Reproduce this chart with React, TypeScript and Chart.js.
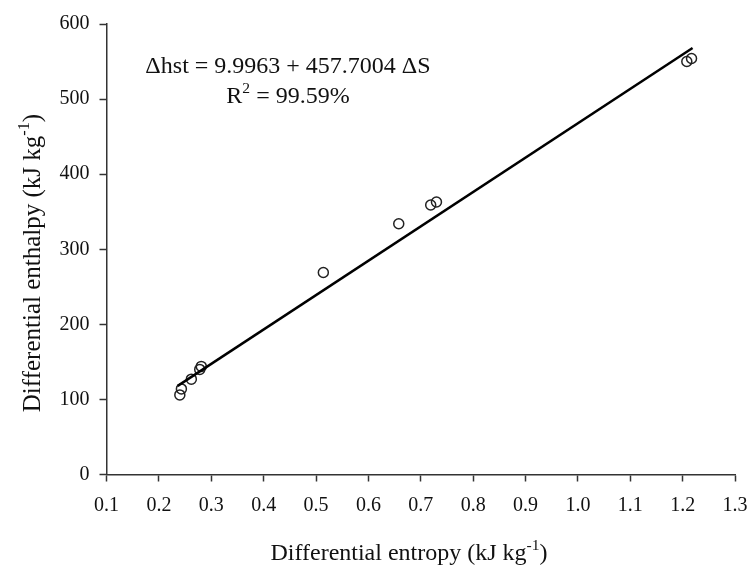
import React, { useEffect, useRef } from "react";
import { Chart, registerables } from "chart.js";

Chart.register(...registerables);

const entropy = [0.240, 0.243, 0.262, 0.278, 0.281, 0.514, 0.658, 0.719, 0.730, 1.208, 1.217];
const enthalpy = [106, 114, 127, 140, 144, 269, 334, 359, 363, 550, 554];
const fitX = [0.236, 1.219];
const fitY = [118, 568];
const xTicks = [0.1, 0.2, 0.3, 0.4, 0.5, 0.6, 0.7, 0.8, 0.9, 1.0, 1.1, 1.2, 1.3];
const yTicks = [0, 100, 200, 300, 400, 500, 600];

const FONT = "'Liberation Serif', 'Times New Roman', serif";

type Part = { t: string; sup?: boolean };

function drawRich(ctx: CanvasRenderingContext2D, parts: Part[], x: number, y: number, size: number, align: "left" | "center") {
  const supSize = size * 0.65;
  const widths = parts.map((p) => {
    ctx.font = `${p.sup ? supSize : size}px ${FONT}`;
    return ctx.measureText(p.t).width;
  });
  const total = widths.reduce((a, b) => a + b, 0);
  let cx = align === "center" ? x - total / 2 : x;
  ctx.textAlign = "left";
  ctx.textBaseline = "alphabetic";
  parts.forEach((p, i) => {
    ctx.font = `${p.sup ? supSize : size}px ${FONT}`;
    ctx.fillText(p.t, cx, p.sup ? y - size * 0.42 : y);
    cx += widths[i];
  });
}

const textPlugin = {
  id: "richText",
  afterDraw(chart: any) {
    const ctx = chart.ctx as CanvasRenderingContext2D;
    ctx.save();
    ctx.fillStyle = "#111";
    // annotation
    drawRich(ctx, [{ t: "\u0394hst = 9.9963 + 457.7004 \u0394S" }], 288, 73, 24, "center");
    drawRich(ctx, [{ t: "R" }, { t: "2", sup: true }, { t: " = 99.59%" }], 288, 103, 24, "center");
    // x title
    drawRich(ctx, [{ t: "Differential entropy (kJ kg" }, { t: "-1", sup: true }, { t: ")" }], 409, 560, 24, "center");
    // y title
    ctx.translate(39.5, 263);
    ctx.rotate(-Math.PI / 2);
    drawRich(ctx, [{ t: "Differential enthalpy (kJ kg" }, { t: "-1", sup: true }, { t: ")" }], 0, 0, 25, "center");
    ctx.restore();
  },
};

export default function App() {
  const ref = useRef<HTMLCanvasElement>(null);
  useEffect(() => {
    if (!ref.current) return;
    const chart = new Chart(ref.current, {
      type: "scatter",
      data: {
        datasets: [
          {
            type: "line",
            data: fitX.map((x, i) => ({ x, y: fitY[i] })),
            borderColor: "#000",
            borderWidth: 2.5,
            pointRadius: 0,
            showLine: true,
            fill: false,
          } as any,
          {
            data: entropy.map((x, i) => ({ x, y: enthalpy[i] })),
            pointStyle: "circle",
            pointRadius: 5,
            pointBorderWidth: 1.5,
            borderColor: "#222",
            backgroundColor: "rgba(0,0,0,0)",
            pointBackgroundColor: "rgba(0,0,0,0)",
            showLine: false,
          },
        ],
      },
      options: {
        responsive: false,
        animation: false,
        layout: { padding: { top: 24, right: 14, left: 0, bottom: 0 } },
        plugins: { legend: { display: false }, tooltip: { enabled: false } },
        scales: {
          x: {
            type: "linear",
            min: 0.1,
            max: 1.3,
            afterBuildTicks: (s: any) => {
              s.ticks = xTicks.map((v) => ({ value: v }));
            },
            afterFit: (s: any) => {
              s.height = 90.5;
              s.paddingLeft = 0;
              s.paddingRight = 0;
            },
            ticks: {
              callback: (v: any) => Number(v).toFixed(1),
              font: { family: FONT, size: 20 },
              color: "#111",
              padding: 12,
              maxRotation: 0,
              autoSkip: false,
            },
            grid: { drawOnChartArea: false, drawTicks: true, tickLength: 7, color: "#333", tickWidth: 1.5 },
            border: { color: "#333", width: 1.5 },
          },
          y: {
            type: "linear",
            min: 0,
            max: 600,
            afterBuildTicks: (s: any) => {
              s.ticks = yTicks.map((v) => ({ value: v }));
            },
            afterFit: (s: any) => {
              s.width = 106.5;
              s.paddingTop = 0;
              s.paddingBottom = 0;
            },
            ticks: {
              font: { family: FONT, size: 20 },
              color: "#111",
              padding: 10,
              autoSkip: false,
            },
            grid: { drawOnChartArea: false, drawTicks: true, tickLength: 7, color: "#333", tickWidth: 1.5 },
            border: { color: "#333", width: 1.5 },
          },
        },
      },
      plugins: [textPlugin],
    } as any);
    return () => chart.destroy();
  }, []);
  return (
    <div style={{ position: "fixed", left: 0, top: 0, width: 749, height: 565, background: "#fff" }}>
      <canvas ref={ref} width={749} height={565} />
    </div>
  );
}
